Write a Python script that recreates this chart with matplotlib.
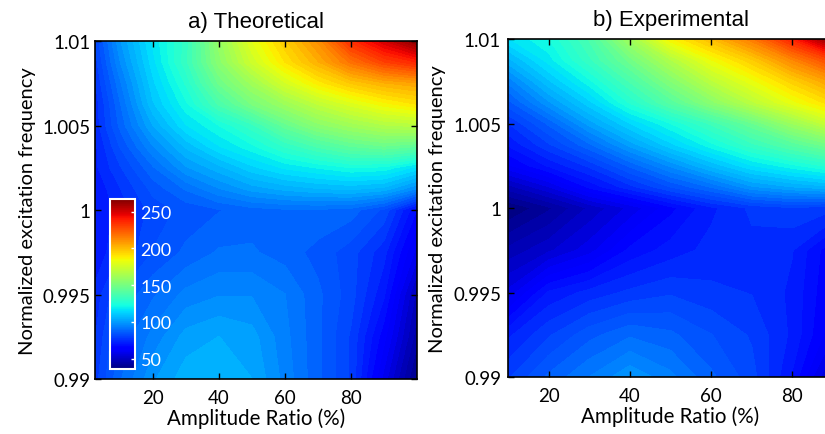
import numpy as np
import matplotlib
matplotlib.use("Agg")
import matplotlib.pyplot as plt
from matplotlib.cm import ScalarMappable
from matplotlib.colors import Normalize

# amplitude ratio (%) and normalized frequency grids
amp_teo = [2.5, 10, 20, 30, 40, 50, 60, 70, 80, 90, 100]
amp_exp = [10, 20, 30, 40, 50, 60, 70, 80, 90]
frec = [0.99, 0.9925, 0.995, 0.9975, 1.0, 1.00125, 1.0025, 1.00375,
        1.005, 1.00625, 1.0075, 1.00875, 1.01]

# values, rows follow frec (bottom to top)
val_teo = [
    [78, 89, 99, 105, 106, 103, 95, 87, 79, 58, 38],
    [76, 87, 94, 101, 103, 101, 94, 87, 79, 64, 44],
    [74, 83, 89, 94, 96, 96, 93, 87, 81, 70, 48],
    [70, 76, 83, 87, 90, 90, 88, 85, 81, 74, 58],
    [70, 74, 81, 84, 86, 88, 89, 89, 88, 82, 66],
    [70, 76, 84, 90, 96, 101, 104, 106, 107, 105, 96],
    [72, 79, 89, 99, 105, 112, 117, 120, 123, 122, 115],
    [72, 83, 96, 107, 116, 122, 130, 137, 143, 146, 143],
    [74, 87, 103, 116, 123, 132, 145, 155, 161, 166, 168],
    [74, 89, 109, 122, 137, 150, 160, 170, 178, 185, 190],
    [76, 92, 112, 127, 147, 161, 176, 188, 197, 203, 206],
    [78, 96, 115, 132, 155, 174, 190, 203, 218, 230, 237],
    [80, 99, 117, 131, 158, 180, 196, 211, 235, 250, 265],
]
val_exp = [
    [79, 87, 93, 99, 94, 87, 81, 69, 50],
    [72, 79, 85, 89, 87, 83, 79, 72, 60],
    [57, 70, 74, 77, 79, 77, 76, 72, 62],
    [47, 52, 58, 67, 71, 74, 75, 73, 63],
    [36, 42, 50, 57, 65, 72, 77, 79, 77],
    [48, 56, 67, 75, 83, 90, 99, 103, 106],
    [62, 70, 77, 87, 97, 107, 116, 122, 128],
    [70, 79, 89, 101, 112, 122, 132, 141, 150],
    [76, 87, 101, 113, 123, 134, 146, 160, 174],
    [85, 99, 112, 127, 141, 155, 169, 182, 193],
    [94, 109, 122, 137, 153, 169, 182, 195, 208],
    [105, 118, 132, 148, 166, 183, 196, 213, 230],
    [116, 123, 137, 161, 186, 200, 216, 238, 266],
]
cbar_ticks = [50, 100, 150, 200, 250]
ytick_vals = [0.99, 0.995, 1.0, 1.005, 1.01]
ytick_txt = ["0.99", "0.995", "1", "1.005", "1.01"]
xtick_vals = [20, 40, 60, 80]

vmin, vmax = 36, 267
niveles = np.linspace(vmin, vmax, 70)

fig = plt.figure(figsize=(8.25, 4.35), dpi=100)
ax1 = fig.add_axes([0.1152, 0.1264, 0.3903, 0.777])
ax2 = fig.add_axes([0.6158, 0.131, 0.394, 0.777])

ax1.contourf(amp_teo, frec, np.array(val_teo), levels=niveles, cmap="jet",
             vmin=vmin, vmax=vmax, extend="both")
ax2.contourf(amp_exp, frec, np.array(val_exp), levels=niveles, cmap="jet",
             vmin=vmin, vmax=vmax, extend="both")

ax1.set_xlim(2.5, 100)
ax2.set_xlim(10, 90)
for ax, titulo, ypad in [(ax1, "a) Theoretical", 3), (ax2, "b) Experimental", 5)]:
    ax.set_ylim(0.99, 1.01)
    ax.set_yticks(ytick_vals)
    ax.set_yticklabels(ytick_txt)
    ax.set_xticks(xtick_vals)
    ax.tick_params(direction="in", top=True, right=True, length=4, width=1,
                   labelsize=13.5)
    ax.tick_params(axis="x", pad=7)
    ax.tick_params(axis="y", pad=ypad)
    for lab in ax.get_xticklabels() + ax.get_yticklabels():
        lab.set_family("Lato")
    ax.set_xlabel("Amplitude Ratio (%)", fontsize=14.8, family="Lato", labelpad=1)
    ax.set_ylabel("Normalized excitation frequency", fontsize=14.5, family="Lato",
                  labelpad=5)
    ax.set_title(titulo, fontsize=16, family="Liberation Sans", pad=10)
    for s in ax.spines.values():
        s.set_linewidth(1.2)

cax = fig.add_axes([0.1333, 0.1494, 0.0303, 0.3908])
sm = ScalarMappable(norm=Normalize(vmin, vmax), cmap="jet")
cb = fig.colorbar(sm, cax=cax, ticks=cbar_ticks)
cb.outline.set_edgecolor("white")
cb.outline.set_linewidth(1.5)
cax.tick_params(colors="white", direction="in", length=3, width=1,
                labelsize=13, pad=4)
for lab in cax.get_yticklabels():
    lab.set_family("Lato")
    lab.set_color("white")

fig.savefig("out.png", dpi=100)
